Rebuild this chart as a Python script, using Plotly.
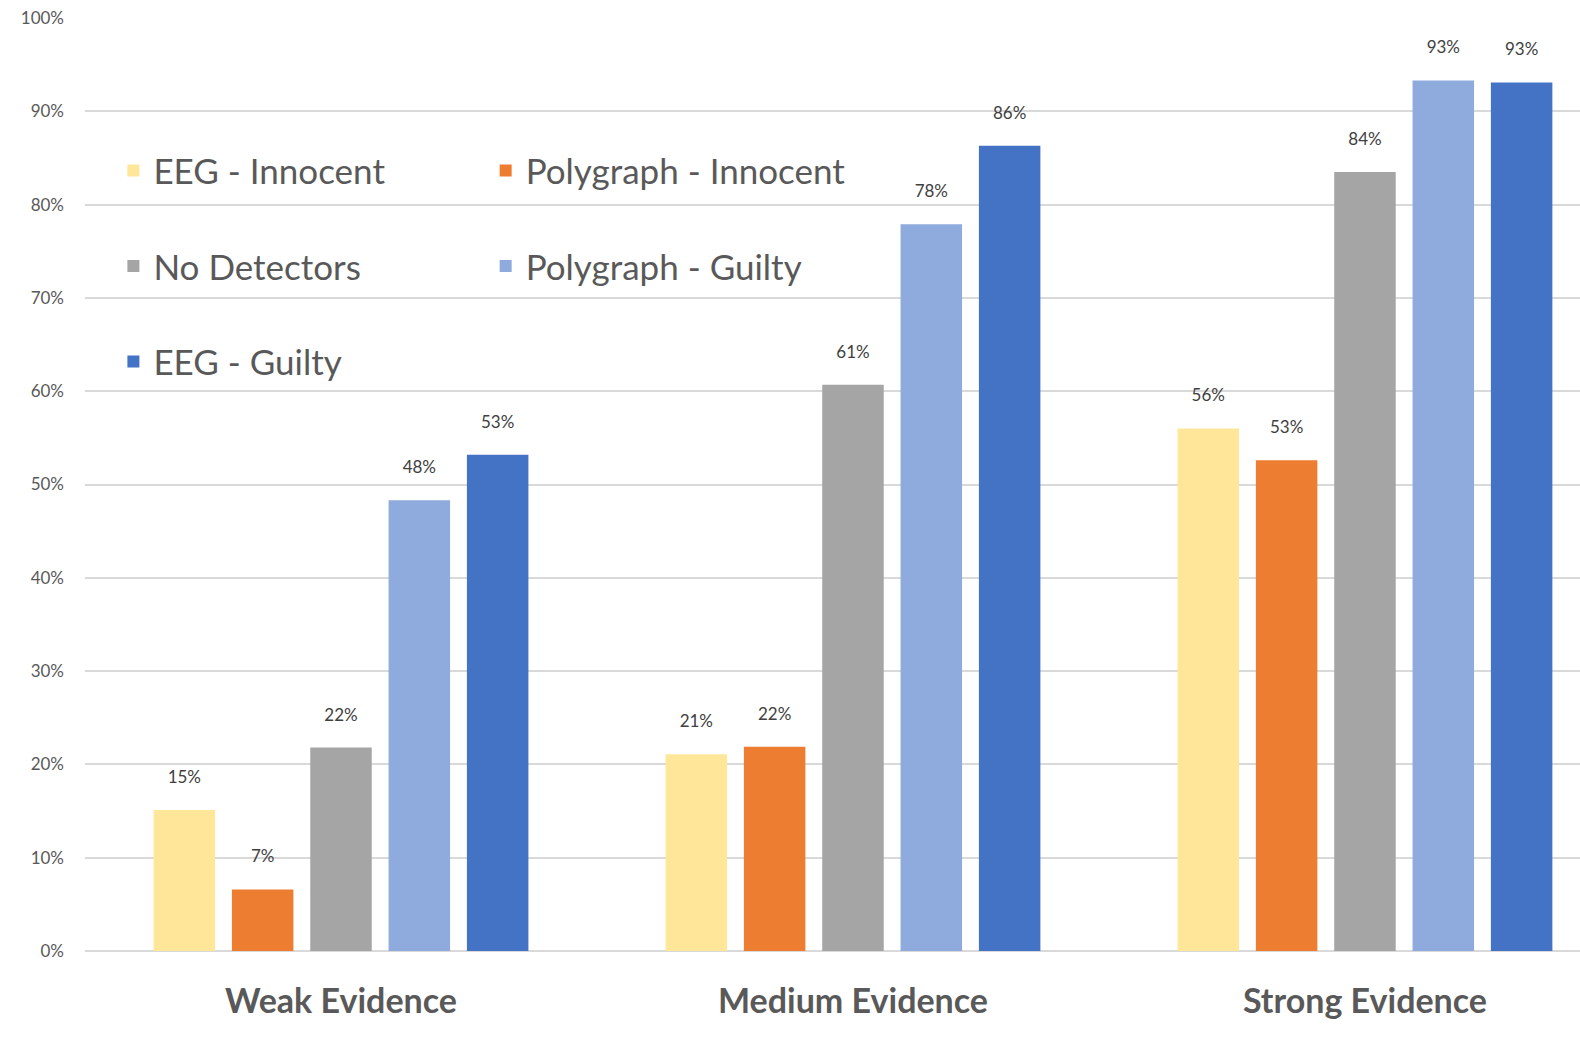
import plotly.graph_objects as go

categories = ["Weak Evidence", "Medium Evidence", "Strong Evidence"]
series_names = ["EEG - Innocent", "Polygraph - Innocent", "No Detectors", "Polygraph - Guilty", "EEG - Guilty"]
eeg_innocent = [0.151, 0.211, 0.560]
polygraph_innocent = [0.066, 0.219, 0.526]
no_detectors = [0.218, 0.607, 0.835]
polygraph_guilty = [0.483, 0.779, 0.933]
eeg_guilty = [0.532, 0.863, 0.931]
y_tick_values = [0, 0.1, 0.2, 0.3, 0.4, 0.5, 0.6, 0.7, 0.8, 0.9, 1.0]
y_tick_labels = ["0%", "10%", "20%", "30%", "40%", "50%", "60%", "70%", "80%", "90%", "100%"]

colors = ["#FFE699", "#ED7D31", "#A5A5A5", "#8FAADC", "#4472C4"]
legends = ["legend", "legend2", "legend", "legend2", "legend"]
all_values = [eeg_innocent, polygraph_innocent, no_detectors, polygraph_guilty, eeg_guilty]

FONT = "Lato"
fig = go.Figure()
for i, (name, vals) in enumerate(zip(series_names, all_values)):
    fig.add_trace(go.Bar(
        x=categories, y=vals, name=name,
        marker=dict(color=colors[i], line=dict(width=0)),
        text=[f"{round(v*100)}%<br><span style='font-size:8px'> </span>" for v in vals],
        textposition="outside",
        textfont=dict(family=FONT, size=17, color="#404040"),
        cliponaxis=False,
        legend=legends[i],
        legendgroup=name,
        hoverinfo="skip",
    ))

legend_style = dict(
    font=dict(family=FONT, size=35, color="#595959"),
    bgcolor="rgba(0,0,0,0)",
    orientation="v",
    tracegroupgap=47,
    yanchor="top",
    xanchor="left",
    traceorder="grouped",
)

fig.update_layout(
    width=1580, height=1037,
    margin=dict(l=85, r=0, t=18, b=86),
    plot_bgcolor="white", paper_bgcolor="white",
    barmode="group",
    bargap=0.235,
    bargroupgap=0.215,
    showlegend=True,
    legend=dict(x=0.019, y=0.868, **legend_style),
    legend2=dict(x=0.268, y=0.868, **legend_style),
    xaxis=dict(
        range=[-0.5, 2.42],
        showgrid=False, showline=False, zeroline=False,
        tickfont=dict(family=FONT, size=34, color="#595959", weight="bold"),
        ticklabelstandoff=27,
    ),
    yaxis=dict(
        range=[0, 1],
        tickvals=y_tick_values, ticktext=y_tick_labels,
        showgrid=True, gridcolor="#D9D9D9", gridwidth=2,
        zeroline=True, zerolinecolor="#D9D9D9", zerolinewidth=2,
        showline=False,
        tickfont=dict(family=FONT, size=17, color="#595959"),
        ticklabelstandoff=20,
    ),
)

fig.write_html("out.html")
